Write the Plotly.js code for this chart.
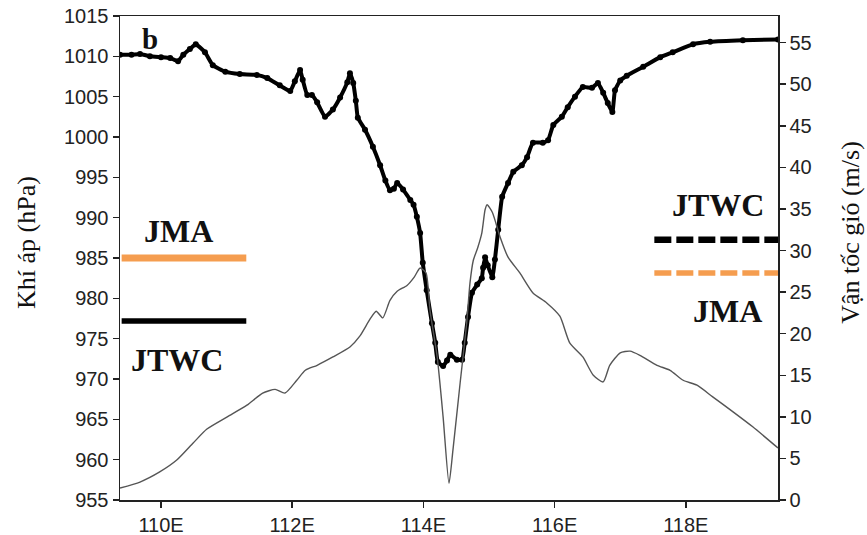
<!DOCTYPE html>
<html>
<head>
<meta charset="utf-8">
<script src="https://cdn.plot.ly/plotly-3.0.1.min.js"></script>
<style>html,body{margin:0;padding:0;background:#fff;}#chart{width:867px;height:535px;}</style>
</head>
<body>
<div id="chart"></div>
<script>
// Longitude (°E) and minimum sea-level pressure (hPa)
const lonP = [109.375, 109.55, 109.68, 109.83, 110.0, 110.14, 110.26, 110.34, 110.44, 110.53, 110.67, 110.79, 110.98, 111.2, 111.46, 111.62, 111.81, 111.97, 112.04, 112.12, 112.16, 112.23, 112.3, 112.38, 112.5, 112.62, 112.73, 112.84, 112.88, 112.93, 112.97, 113.0, 113.11, 113.23, 113.34, 113.42, 113.49, 113.55, 113.6, 113.69, 113.8, 113.85, 113.9, 113.95, 113.99, 114.05, 114.13, 114.18, 114.22, 114.3, 114.36, 114.41, 114.51, 114.59, 114.63, 114.68, 114.74, 114.82, 114.89, 114.91, 114.94, 114.98, 115.05, 115.09, 115.14, 115.2, 115.29, 115.37, 115.5, 115.58, 115.67, 115.82, 115.9, 115.98, 116.11, 116.2, 116.31, 116.43, 116.57, 116.66, 116.74, 116.81, 116.88, 116.92, 117.0, 117.1, 117.35, 117.61, 117.8, 118.11, 118.37, 118.87, 119.405];
const pressure = [1010.2, 1010.2, 1010.3, 1010.0, 1009.9, 1009.8, 1009.4, 1010.2, 1010.9, 1011.5, 1010.5, 1008.9, 1008.1, 1007.8, 1007.7, 1007.3, 1006.4, 1005.7, 1006.9, 1008.3, 1007.1, 1005.2, 1005.2, 1004.3, 1002.5, 1003.4, 1004.9, 1006.8, 1007.9, 1006.7, 1004.5, 1002.4, 1000.9, 998.8, 996.5, 994.6, 993.4, 993.6, 994.3, 993.5, 992.2, 991.6, 990.1, 988.1, 984.4, 981.0, 976.9, 974.5, 972.1, 971.6, 972.3, 973.0, 972.4, 972.4, 974.5, 977.7, 980.7, 981.7, 982.5, 983.8, 985.1, 984.1, 982.6, 984.8, 988.5, 992.6, 994.3, 995.7, 996.5, 997.5, 999.3, 999.3, 999.6, 1001.5, 1002.5, 1003.7, 1005.0, 1006.2, 1006.1, 1006.7, 1005.5, 1004.2, 1003.1, 1005.8, 1007.0, 1007.6, 1008.7, 1009.9, 1010.5, 1011.5, 1011.8, 1012.0, 1012.1];

// Longitude (°E) and maximum wind speed (m/s)
const lonW = [109.375, 109.68, 109.98, 110.24, 110.49, 110.70, 111.01, 111.31, 111.55, 111.74, 111.89, 112.07, 112.20, 112.38, 112.62, 112.88, 113.03, 113.19, 113.28, 113.38, 113.49, 113.60, 113.75, 113.86, 113.95, 114.04, 114.10, 114.21, 114.30, 114.39, 114.45, 114.56, 114.66, 114.71, 114.76, 114.83, 114.89, 114.94, 114.97, 115.05, 115.17, 115.29, 115.47, 115.67, 115.88, 116.08, 116.23, 116.43, 116.59, 116.74, 116.84, 117.00, 117.15, 117.30, 117.56, 117.76, 117.96, 118.17, 118.41, 118.72, 119.02, 119.405];
const wind = [1.44, 2.16, 3.37, 4.8, 6.85, 8.53, 10.0, 11.4, 12.86, 13.3, 12.86, 14.4, 15.6, 16.2, 17.2, 18.4, 19.7, 21.8, 22.7, 21.9, 24.0, 25.1, 25.8, 26.8, 27.9, 27.3, 22.8, 17.2, 10.0, 2.0, 6.0, 14.1, 21.3, 26.1, 28.8, 30.4, 32.1, 34.9, 35.5, 34.6, 31.6, 29.2, 27.3, 24.9, 23.7, 22.1, 18.9, 17.2, 15.0, 14.2, 16.2, 17.7, 17.9, 17.4, 16.2, 15.6, 14.4, 13.8, 12.4, 10.6, 8.8, 6.25];

// Best-track reference values
const refAgencies = ["JMA", "JTWC"];
const refPressure = [985, 977.2];   // hPa (left)
const refWind = [27.3, 31.3];       // m/s (right)
const refPressureLon = [109.4, 111.3];
const refWindLon = [117.52, 119.405];

// Axis ticks
const xTickVals = [110, 112, 114, 116, 118];
const xTickText = ["110E", "112E", "114E", "116E", "118E"];
const xRange = [109.375, 119.405];
const yRange = [955, 1015];
const y2Range = [0, 58.2];

const orange = "#f59d4f";
const traces = [
  {x: lonW, y: wind, yaxis: "y2", mode: "lines", line: {color: "#555", width: 1.4, shape: "spline", smoothing: 0.6}, hoverinfo: "skip"},
  {x: lonP, y: pressure, mode: "lines+markers", line: {color: "#000", width: 4, shape: "spline", smoothing: 0.4}, marker: {color: "#000", size: 6}},
  {x: refPressureLon, y: [refPressure[0], refPressure[0]], mode: "lines", line: {color: orange, width: 7}},
  {x: refPressureLon, y: [refPressure[1], refPressure[1]], mode: "lines", line: {color: "#000", width: 5.5}},
  {x: refWindLon, y: [refWind[1], refWind[1]], yaxis: "y2", mode: "lines", line: {color: "#000", width: 6.5, dash: "17px,5px"}},
  {x: refWindLon, y: [refWind[0], refWind[0]], yaxis: "y2", mode: "lines", line: {color: orange, width: 5.5, dash: "17px,5px"}}
];

const tickFont = {family: "Liberation Sans, Arial, sans-serif", size: 20, color: "#222"};
const lblFont = {family: "Liberation Serif, Times New Roman, serif", size: 32, color: "#111"};
const titleFont = {family: "Liberation Serif, Times New Roman, serif", size: 26, color: "#111"};

const layout = {
  width: 867, height: 535,
  margin: {l: 120, r: 89, t: 16, b: 35},
  paper_bgcolor: "#fff", plot_bgcolor: "#fff",
  showlegend: false,
  xaxis: {
    range: xRange, tickvals: xTickVals, ticktext: xTickText,
    showgrid: false, zeroline: false, showline: true, mirror: true,
    linecolor: "#222", linewidth: 1.5, ticks: "outside", ticklen: 6, tickwidth: 1.5, tickcolor: "#222",
    tickfont: {family: "Liberation Sans, Arial, sans-serif", size: 20, color: "#222"}
  },
  yaxis: {
    range: yRange, dtick: 5, tick0: 955,
    showgrid: false, zeroline: false, showline: true,
    linecolor: "#222", linewidth: 1.5, ticks: "outside", ticklen: 6, tickwidth: 1.5, tickcolor: "#222",
    tickfont: tickFont
  },
  yaxis2: {
    range: y2Range, dtick: 5, tick0: 0, overlaying: "y", side: "right",
    showgrid: false, zeroline: false, showline: true,
    linecolor: "#222", linewidth: 1.5, ticks: "outside", ticklen: 6, tickwidth: 1.5, tickcolor: "#222",
    tickfont: tickFont
  },
  annotations: [
    {xref: "x", yref: "y", x: 109.83, y: 1012.2, text: "<b>b</b>", showarrow: false, font: {family: lblFont.family, size: 29, color: "#111"}},
    {xref: "x", yref: "y", x: 110.26, y: 988.3, text: "<b>" + refAgencies[0] + "</b>", showarrow: false, font: lblFont},
    {xref: "x", yref: "y", x: 110.24, y: 972.3, text: "<b>" + refAgencies[1] + "</b>", showarrow: false, font: lblFont},
    {xref: "x", yref: "y", x: 118.49, y: 991.6, text: "<b>" + refAgencies[1] + "</b>", showarrow: false, font: lblFont},
    {xref: "x", yref: "y", x: 118.63, y: 978.4, text: "<b>" + refAgencies[0] + "</b>", showarrow: false, font: lblFont},
    {xref: "paper", yref: "paper", x: -0.143, y: 0.533, xanchor: "center", yanchor: "middle", text: "Khí áp (hPa)", textangle: -90, showarrow: false, font: titleFont},
    {xref: "paper", yref: "paper", x: 1.111, y: 0.552, xanchor: "center", yanchor: "middle", text: "Vận tốc gió (m/s)", textangle: -90, showarrow: false, font: titleFont}
  ]
};

Plotly.newPlot("chart", traces, layout, {displayModeBar: false, staticPlot: true});
</script>
</body>
</html>
